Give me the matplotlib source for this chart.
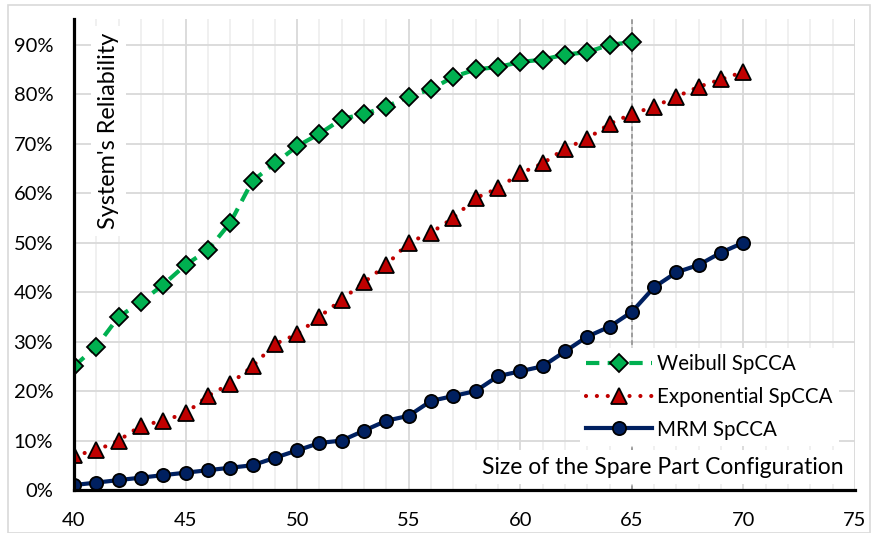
import matplotlib
matplotlib.use("Agg")
import matplotlib.pyplot as plt
from matplotlib.ticker import MultipleLocator, FuncFormatter
from matplotlib.patches import Rectangle

plt.rcParams['font.family'] = ['Lato', 'DejaVu Sans']

x_weibull = list(range(40, 66))
weibull = [25, 29, 35, 38, 41.5, 45.5, 48.5, 54, 62.5, 66, 69.5, 72, 75, 76, 77.5,
           79.5, 81, 83.5, 85, 85.5, 86.5, 87, 88, 88.5, 90, 90.5]
x_full = list(range(40, 71))
exponential = [7, 8, 10, 13, 14, 15.5, 19, 21.5, 25, 29.5, 31.5, 35, 38.5, 42, 45.5,
               50, 52, 55, 59, 61, 64, 66, 69, 71, 74, 76, 77.5, 79.5, 81.5, 83, 84.5]
mrm = [1, 1.5, 2, 2.5, 3, 3.5, 4, 4.5, 5, 6.5, 8, 9.5, 10, 12, 14, 15, 18, 19, 20,
       23, 24, 25, 28, 31, 33, 36, 41, 44, 45.5, 48, 50]
series_labels = ["Weibull SpCCA", "Exponential SpCCA", "MRM SpCCA"]
x_ticks = [40, 45, 50, 55, 60, 65, 70, 75]
y_ticks = [0, 10, 20, 30, 40, 50, 60, 70, 80, 90]
marker_line = 65

fig = plt.figure(figsize=(8.72, 5.33), dpi=100)
fig.patches.append(Rectangle((8/872, 0.0), 1 - 10/872, 1 - 5/533, transform=fig.transFigure,
                             fill=False, edgecolor='#D9D9D9', linewidth=1.2))
ax = fig.add_axes([74/872, 1 - 490/533, (855 - 74)/872, (490 - 19)/533])
ax.set_xlim(40, 75)
ax.set_ylim(0, 95.2)

ax.xaxis.set_minor_locator(MultipleLocator(1))
ax.set_xticks(x_ticks)
ax.set_yticks(y_ticks)
ax.yaxis.set_major_formatter(FuncFormatter(lambda v, p: f"{v:.0f}%"))
ax.grid(which='major', axis='x', color='#D9D9D9', linewidth=1.3, zorder=0)
ax.grid(which='minor', axis='x', color='#EFEFEF', linewidth=1.3, zorder=0)
ax.grid(which='major', axis='y', color='#D9D9D9', linewidth=1.3, zorder=0)
ax.set_axisbelow(True)
ax.tick_params(which='both', length=0, labelsize=14.5, colors='#000000')
ax.tick_params(axis='x', pad=16)
ax.tick_params(axis='y', pad=15)
for s in ['top', 'right']:
    ax.spines[s].set_visible(False)
for s in ['left', 'bottom']:
    ax.spines[s].set_linewidth(2.3)
    ax.spines[s].set_color('black')
    ax.spines[s].set_zorder(6)

ax.axvline(marker_line, color='#8C8C8C', linestyle=(0, (3, 2)), linewidth=1.1, zorder=1)

ax.plot(x_weibull, weibull, color='#00B050', linestyle=(0, (3.2, 2)), linewidth=3,
        marker='D', markersize=9.5, markerfacecolor='#00B050', markeredgecolor='black',
        markeredgewidth=1.3, label=series_labels[0], zorder=3)
ax.plot(x_full, exponential, color='#C00000', linestyle=(0, (0.01, 2.6)), linewidth=3,
        dash_capstyle='round', solid_capstyle='round',
        marker='^', markersize=11.5, markerfacecolor='#C00000', markeredgecolor='black',
        markeredgewidth=1.3, label=series_labels[1], zorder=3)
ax.plot(x_full, mrm, color='#002060', linestyle='-', linewidth=3,
        marker='o', markersize=9.5, markerfacecolor='#002060', markeredgecolor='black',
        markeredgewidth=1.3, label=series_labels[2], zorder=3)

leg = ax.legend(loc='upper left', bbox_to_anchor=((580 - 74) / 781, (490 - 348) / 471),
                frameon=True, fancybox=False, edgecolor='none', facecolor='white',
                framealpha=1, fontsize=14.8, handlelength=3.2, handletextpad=0.25,
                labelspacing=0.62, borderpad=0.3, borderaxespad=0)
leg.set_zorder(5)

ax.text((663 - 74) / 781, (490 - 467) / 471, "Size of the Spare Part Configuration",
        transform=ax.transAxes, ha='center', va='center', fontsize=16.5, zorder=5,
        bbox=dict(facecolor='white', edgecolor='none', pad=5))
ax.text((108 - 74) / 781, (490 - 131) / 471, "System's Reliability", transform=ax.transAxes,
        rotation=90, ha='center', va='center', fontsize=16.8, zorder=5,
        bbox=dict(facecolor='white', edgecolor='none', pad=5))

fig.savefig("out.png", dpi=100)
